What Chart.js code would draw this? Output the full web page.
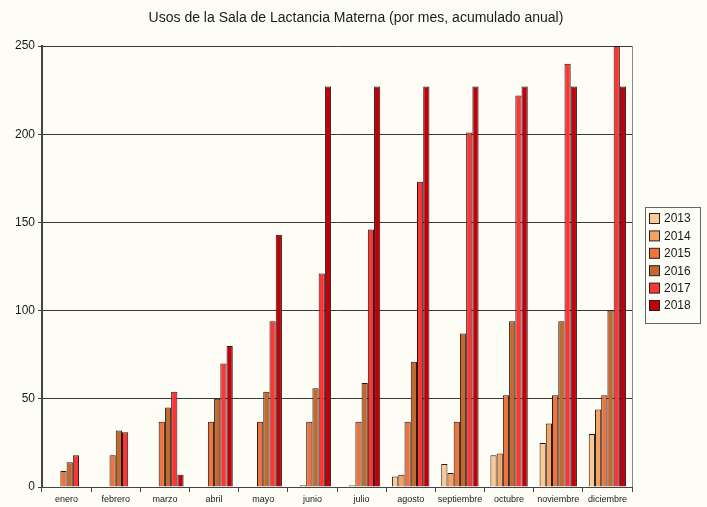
<!DOCTYPE html>
<html>
<head>
<meta charset="utf-8">
<script src="https://cdn.jsdelivr.net/npm/chart.js@4"></script>
<style>
  html, body { margin: 0; padding: 0; background: #fdfdf6; }
  #wrap { width: 707px; height: 507px; position: relative; }
</style>
</head>
<body>
<div id="wrap"><canvas id="chart" width="707" height="507"></canvas></div>
<script>
'use strict';

// ── Data ──────────────────────────────────────────────────
const MONTHS = ['enero','febrero','marzo','abril','mayo','junio','julio','agosto','septiembre','octubre','noviembre','diciembre'];
const YEARS  = ['2013','2014','2015','2016','2017','2018'];

const d2013 = [null, null, null, null, null, null, null, 6, 13, 18, 25, 30];
const d2014 = [null, null, null, null, null, 1, 1, 7, 8, 19, 36, 44];
const d2015 = [9, 18, 37, 37, 37, 37, 37, 37, 37, 52, 52, 52];
const d2016 = [14, 32, 45, 50, 54, 56, 59, 71, 87, 94, 94, 100];
const d2017 = [18, 31, 54, 70, 94, 121, 146, 173, 201, 222, 240, 250];
const d2018 = [null, null, 7, 80, 143, 227, 227, 227, 227, 227, 227, 227];

const Y_TICKS = [0, 50, 100, 150, 200, 250];
const TITLE = 'Usos de la Sala de Lactancia Materna (por mes, acumulado anual)';

// ── Styles ────────────────────────────────────────────────
const COLORS = ['#fcc894', '#f5a262', '#f0723c', '#c4682c', '#ff3535', '#c2000a'];
const BG = '#fdfdf6';
const FONT = "'Liberation Sans', Arial, sans-serif";

const SERIES = [d2013, d2014, d2015, d2016, d2017, d2018];

// ── Title / legend / frame plugin ─────────────────────────
const decor = {
  id: 'decor',
  beforeDraw(chart) {
    const c = chart.ctx;
    c.save();
    c.fillStyle = BG;
    c.fillRect(0, 0, chart.width, chart.height);
    c.restore();
  },
  afterDraw(chart) {
    const c = chart.ctx;
    const a = chart.chartArea;
    c.save();
    // right frame
    c.strokeStyle = '#8a8a8a';
    c.lineWidth = 1;
    c.beginPath();
    c.moveTo(a.right + 0.5, a.top);
    c.lineTo(a.right + 0.5, a.bottom);
    c.stroke();

    // title
    c.fillStyle = '#1a1a1a';
    c.font = '14px ' + FONT;
    c.textAlign = 'center';
    c.textBaseline = 'middle';
    c.fillText(TITLE, 356, 18);

    // legend
    const lx = 645, ly = 207, lw = 55, lh = 116;
    c.fillStyle = BG;
    c.fillRect(lx, ly, lw, lh);
    c.strokeStyle = '#666';
    c.strokeRect(lx + 0.5, ly + 0.5, lw, lh);
    c.font = '12px ' + FONT;
    c.textAlign = 'left';
    YEARS.forEach((y, i) => {
      const cy = ly + 12 + i * 17.4;
      c.fillStyle = COLORS[i];
      c.fillRect(lx + 4.5, cy - 5.5, 10, 10);
      c.strokeStyle = '#222';
      c.strokeRect(lx + 4.5, cy - 5.5, 10, 10);
      c.fillStyle = '#1a1a1a';
      c.fillText(y, lx + 19, cy);
    });
    c.restore();
  }
};

// ── Chart ─────────────────────────────────────────────────
new Chart(document.getElementById('chart'), {
  type: 'bar',
  data: {
    labels: MONTHS,
    datasets: YEARS.map((y, i) => ({
      label: y,
      data: SERIES[i],
      backgroundColor: COLORS[i],
      borderColor: '#1a1a1a',
      borderWidth: 1,
      borderSkipped: 'bottom',
      categoryPercentage: 0.76,
      barPercentage: 1.0
    }))
  },
  options: {
    responsive: false,
    animation: false,
    devicePixelRatio: 1,
    layout: { padding: { top: 46, right: 75, left: 0, bottom: 0 } },
    plugins: {
      legend: { display: false },
      title: { display: false },
      tooltip: { enabled: false }
    },
    scales: {
      x: {
        offset: true,
        grid: { drawOnChartArea: false, drawTicks: true, tickLength: 5, offset: true, color: '#444' },
        border: { color: '#444', width: 1 },
        ticks: { font: { family: FONT, size: 9 }, color: '#1a1a1a', padding: 2, maxRotation: 0, autoSkip: false },
        afterFit: s => { s.height = 20; }
      },
      y: {
        min: 0,
        max: 250,
        afterBuildTicks: s => { s.ticks = Y_TICKS.map(v => ({ value: v })); },
        grid: { color: '#3a3a3a', lineWidth: 1, tickLength: 4, drawTicks: true },
        border: { color: '#444', width: 2 },
        ticks: { font: { family: FONT, size: 12 }, color: '#1a1a1a', padding: 3 },
        afterFit: s => { s.width = 42; }
      }
    }
  },
  plugins: [decor]
});
</script>
</body>
</html>
